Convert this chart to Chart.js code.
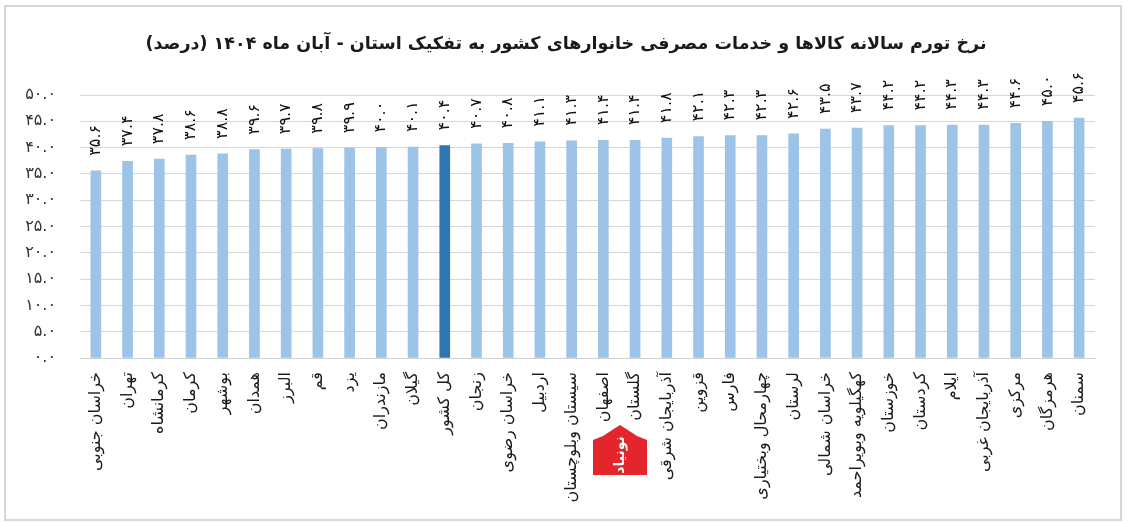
<!DOCTYPE html>
<html>
<head>
<meta charset="utf-8">
<script src="https://cdn.jsdelivr.net/npm/chart.js@4.4.1/dist/chart.umd.min.js"></script>
<style>
  html, body { margin: 0; padding: 0; background: #ffffff; }
  #wrap { width: 1128px; height: 523px; }
</style>
</head>
<body>
<div id="wrap"><canvas id="c" width="1128" height="523"></canvas></div>
<script>
const chartTitle = 'نرخ تورم سالانه کالاها و خدمات مصرفی خانوارهای کشور به تفکیک استان - آبان ماه ۱۴۰۴ (درصد)';

const provinces = [
  'خراسان جنوبی', 'تهران', 'کرمانشاه', 'کرمان', 'بوشهر', 'همدان', 'البرز', 'قم',
  'یزد', 'مازندران', 'گیلان', 'کل کشور', 'زنجان', 'خراسان رضوی', 'اردبیل',
  'سیستان وبلوچستان', 'اصفهان', 'گلستان', 'آذربایجان شرقی', 'قزوین', 'فارس',
  'چهارمحال وبختیاری', 'لرستان', 'خراسان شمالی', 'کهگیلویه وبویراحمد', 'خوزستان',
  'کردستان', 'ایلام', 'آذربایجان غربی', 'مرکزی', 'هرمزگان', 'سمنان'
];

const inflation = [
  35.6, 37.4, 37.8, 38.6, 38.8, 39.6, 39.7, 39.8,
  39.9, 40.0, 40.1, 40.4, 40.7, 40.8, 41.1,
  41.3, 41.4, 41.4, 41.8, 42.1, 42.3,
  42.3, 42.6, 43.5, 43.7, 44.2,
  44.2, 44.3, 44.3, 44.6, 45.0, 45.6
];

const highlightCategory = 'کل کشور';

const yTickLabels = ['۰.۰', '۵.۰', '۱۰.۰', '۱۵.۰', '۲۰.۰', '۲۵.۰', '۳۰.۰', '۳۵.۰', '۴۰.۰', '۴۵.۰', '۵۰.۰'];

const faDigits = ['۰','۱','۲','۳','۴','۵','۶','۷','۸','۹'];
function toFa(n) {
  return n.toFixed(1).replace(/[0-9]/g, d => faDigits[+d]);
}

const FONT = "'DejaVu Sans', 'Noto Sans', sans-serif";

const framePlugin = {
  id: 'frame',
  beforeDraw(chart) {
    const ctx = chart.ctx;
    ctx.save();
    ctx.fillStyle = '#ffffff';
    ctx.fillRect(0, 0, chart.width, chart.height);
    ctx.strokeStyle = '#d6d6d6';
    ctx.lineWidth = 2;
    ctx.strokeRect(5, 6, 1116, 514);
    ctx.restore();
  }
};

const titlePlugin = {
  id: 'rtlTitle',
  afterDraw(chart) {
    const ctx = chart.ctx;
    ctx.save();
    ctx.direction = 'rtl';
    ctx.fillStyle = '#1a1a1a';
    ctx.font = "bold 17.5px " + FONT;
    ctx.textAlign = 'center';
    ctx.textBaseline = 'middle';
    ctx.fillText(chartTitle, 566, 44);
    ctx.restore();
  }
};

const valueLabelPlugin = {
  id: 'valueLabels',
  afterDatasetsDraw(chart) {
    const ctx = chart.ctx;
    const meta = chart.getDatasetMeta(0);
    ctx.save();
    ctx.fillStyle = '#111111';
    ctx.font = "16px " + FONT;
    ctx.textAlign = 'left';
    ctx.textBaseline = 'middle';
    meta.data.forEach((bar, i) => {
      ctx.save();
      ctx.translate(bar.x, bar.y - 15);
      ctx.rotate(-Math.PI / 2);
      ctx.fillText(toFa(inflation[i]), 0, 0);
      ctx.restore();
    });
    ctx.restore();
  }
};

const logoPlugin = {
  id: 'logo',
  afterDraw(chart) {
    const ctx = chart.ctx;
    ctx.save();
    ctx.fillStyle = '#e3262b';
    ctx.beginPath();
    ctx.moveTo(593, 475);
    ctx.lineTo(593, 440);
    ctx.lineTo(603, 436);
    ctx.quadraticCurveTo(612, 430, 620, 425);
    ctx.quadraticCurveTo(628, 430, 637, 436);
    ctx.lineTo(647, 440);
    ctx.lineTo(647, 475);
    ctx.closePath();
    ctx.fill();
    ctx.fillStyle = '#ffffff';
    ctx.font = "bold 14px " + FONT;
    ctx.textAlign = 'center';
    ctx.textBaseline = 'middle';
    ctx.translate(620, 455);
    ctx.rotate(-Math.PI / 2);
    ctx.fillText('نونیاد', 0, 0);
    ctx.restore();
  }
};

new Chart(document.getElementById('c'), {
  type: 'bar',
  data: {
    labels: provinces,
    datasets: [{
      data: inflation,
      backgroundColor: provinces.map(p => p === highlightCategory ? '#2e75b6' : '#9dc3e6'),
      borderWidth: 0,
      barThickness: 10
    }]
  },
  options: {
    responsive: false,
    animation: false,
    devicePixelRatio: 1,
    layout: { padding: { left: 0, right: 33, top: 95, bottom: 0 } },
    plugins: {
      legend: { display: false },
      tooltip: { enabled: false },
      title: { display: false }
    },
    scales: {
      x: {
        grid: { display: false, drawTicks: false },
        border: { display: true, color: '#d0d0d0', width: 1 },
        ticks: {
          autoSkip: false,
          maxRotation: 90,
          minRotation: 90,
          padding: 14,
          color: '#1a1a1a',
          font: { family: FONT, size: 16 }
        },
        afterFit(scale) { scale.height = 165; }
      },
      y: {
        min: 0,
        max: 50,
        grid: { color: '#d6d6d6', lineWidth: 1, drawTicks: false },
        border: { display: false },
        ticks: {
          stepSize: 5,
          padding: 24,
          color: '#333333',
          font: { family: FONT, size: 16 },
          callback: (v, i) => yTickLabels[i]
        },
        afterFit(scale) { scale.width = 80; }
      }
    }
  },
  plugins: [framePlugin, valueLabelPlugin, logoPlugin, titlePlugin]
});
</script>
</body>
</html>
